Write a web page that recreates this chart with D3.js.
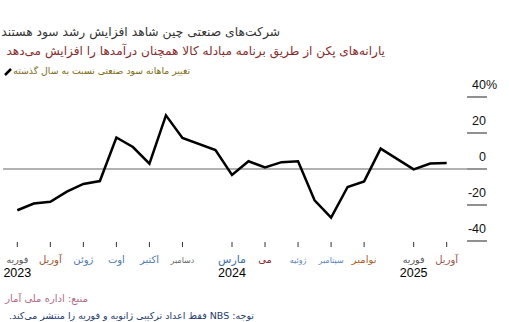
<!DOCTYPE html>
<html>
<head>
<meta charset="utf-8">
<script src="https://cdn.jsdelivr.net/npm/d3@7"></script>
<style>
  body { margin: 0; background: #fff; }
  svg { display: block; }
  .fa { font-family: "DejaVu Sans", sans-serif; }
  .num { font-family: "Liberation Sans", Arial, sans-serif; }
</style>
</head>
<body>
<div id="chart"></div>
<script>
// monthly data, NBS gives no separate January figure
const months = ["2023-02", "2023-03", "2023-04", "2023-05", "2023-06", "2023-07", "2023-08", "2023-09",
    "2023-10", "2023-11", "2023-12", "2024-02", "2024-03", "2024-04", "2024-05", "2024-06", "2024-07",
    "2024-08", "2024-09", "2024-10", "2024-11", "2024-12", "2025-02", "2025-03", "2025-04"];
const profits = [-22.9, -19.2, -18.2, -12.6, -8.3, -6.7, 17.5, 12.2, 3.0, 29.8, 17.2, 10.5, -3.3, 4.3,
    0.9, 3.8, 4.3, -17.4, -27.0, -10.0, -6.9, 11.3, -0.2, 3.0, 3.3];

const tickMonths = ["2023-02", "2023-04", "2023-06", "2023-08", "2023-10", "2023-12", "2024-03",
    "2024-05", "2024-07", "2024-09", "2024-11", "2025-02", "2025-04"];
const tickLabels = ["فوریه", "آوریل", "ژوئن", "اوت", "اکتبر", "دسامبر", "مارس", "می", "ژوئیه",
    "سپتامبر", "نوامبر", "فوریه", "آوریل"];
const yearMonths = ["2023-02", "2024-03", "2025-02"];
const yearLabels = ["2023", "2024", "2025"];
const yTicks = [40, 20, 0, -20, -40];

// label look (the reference has mixed colours and sizes)
const tickColors = ["#555", "#a0522d", "#4a78b5", "#4a78b5", "#4a78b5", "#666", "#3d6fb0", "#8b2a2a",
    "#5a86c0", "#5a86c0", "#b0602a", "#555", "#a0524d"];
const tickSizes = [9.5, 10, 10, 10, 10, 8, 11, 10, 8, 8, 10, 9.5, 10];

const width = 509, height = 322;
const svg = d3.select("#chart").append("svg")
    .attr("width", width)
    .attr("height", height);

const parse = d3.timeParse("%Y-%m");
const idx = s => { const d = parse(s); return (d.getFullYear() - 2023) * 12 + d.getMonth(); };

const x = d3.scaleLinear().domain([1, 27]).range([17.3, 446.7]);
const y = d3.scaleLinear().domain([-40, 40]).range([241, 97]);

// titles
svg.append("text").attr("class", "fa")
    .attr("x", 280).attr("y", 36)
    .attr("direction", "rtl").attr("text-anchor", "start")
    .attr("font-size", 12.3).attr("fill", "#333")
    .text("شرکت‌های صنعتی چین شاهد افزایش رشد سود هستند");

svg.append("text").attr("class", "fa")
    .attr("x", 385).attr("y", 55)
    .attr("direction", "rtl").attr("text-anchor", "start")
    .attr("font-size", 12.1).attr("fill", "#8a2b2b")
    .text("یارانه‌های پکن از طریق برنامه مبادله کالا همچنان درآمدها را افزایش می‌دهد");

// legend
svg.append("line")
    .attr("x1", 5).attr("y1", 75).attr("x2", 11).attr("y2", 69)
    .attr("stroke", "#000").attr("stroke-width", 2.5);
svg.append("text").attr("class", "fa")
    .attr("x", 190).attr("y", 74)
    .attr("direction", "rtl").attr("text-anchor", "start")
    .attr("font-size", 9.3).attr("fill", "#7d6a12")
    .text("تغییر ماهانه سود صنعتی نسبت به سال گذشته");

// y axis: label above a short rule
const yAxis = svg.append("g");
yAxis.selectAll("line.tick")
    .data(yTicks)
    .enter().append("line")
    .attr("class", "tick")
    .attr("x1", 467).attr("x2", 487)
    .attr("y1", d => y(d)).attr("y2", d => y(d))
    .attr("stroke", "#222").attr("stroke-width", 1);
yAxis.selectAll("text")
    .data(yTicks)
    .enter().append("text")
    .attr("class", "num")
    .attr("x", 486).attr("y", d => y(d) - 8)
    .attr("text-anchor", "end")
    .attr("font-size", 12.5).attr("fill", "#111")
    .text(d => d);
yAxis.append("text").attr("class", "num")
    .attr("x", 486).attr("y", y(40) - 8)
    .attr("font-size", 12.5).attr("fill", "#111")
    .text("%");

// zero line
svg.append("line")
    .attr("x1", 3).attr("x2", 487)
    .attr("y1", y(0)).attr("y2", y(0))
    .attr("stroke", "#999").attr("stroke-width", 1.5);

// x ticks
svg.selectAll("line.xtick")
    .data(tickMonths)
    .enter().append("line")
    .attr("class", "xtick")
    .attr("x1", d => x(idx(d))).attr("x2", d => x(idx(d)))
    .attr("y1", 242).attr("y2", 247)
    .attr("stroke", "#333").attr("stroke-width", 1);
svg.selectAll("text.xlab")
    .data(tickLabels)
    .enter().append("text")
    .attr("class", "xlab fa")
    .attr("x", (d, i) => x(idx(tickMonths[i])))
    .attr("y", 263)
    .attr("text-anchor", "middle")
    .attr("font-size", (d, i) => tickSizes[i])
    .attr("fill", (d, i) => tickColors[i])
    .text(d => d);
svg.selectAll("text.year")
    .data(yearLabels)
    .enter().append("text")
    .attr("class", "year num")
    .attr("x", (d, i) => x(idx(yearMonths[i])))
    .attr("y", 277)
    .attr("text-anchor", "middle")
    .attr("font-size", 12.5).attr("fill", "#000")
    .text(d => d);

// line
const line = d3.line()
    .x((d, i) => x(idx(months[i])))
    .y(d => y(d));
svg.append("path")
    .datum(profits)
    .attr("d", line)
    .attr("fill", "none")
    .attr("stroke", "#000")
    .attr("stroke-width", 2.5)
    .attr("stroke-linejoin", "miter");

// footer
svg.append("text").attr("class", "fa")
    .attr("x", 88).attr("y", 302)
    .attr("direction", "rtl").attr("text-anchor", "start")
    .attr("font-size", 10).attr("fill", "#b56a86")
    .text("منبع: اداره ملی آمار");
svg.append("text").attr("class", "fa")
    .attr("x", 254).attr("y", 319)
    .attr("direction", "rtl").attr("text-anchor", "start")
    .attr("font-size", 9.5).attr("fill", "#1d3a70")
    .text("توجه: NBS فقط اعداد ترکیبی ژانویه و فوریه را منتشر می‌کند.");
</script>
</body>
</html>
